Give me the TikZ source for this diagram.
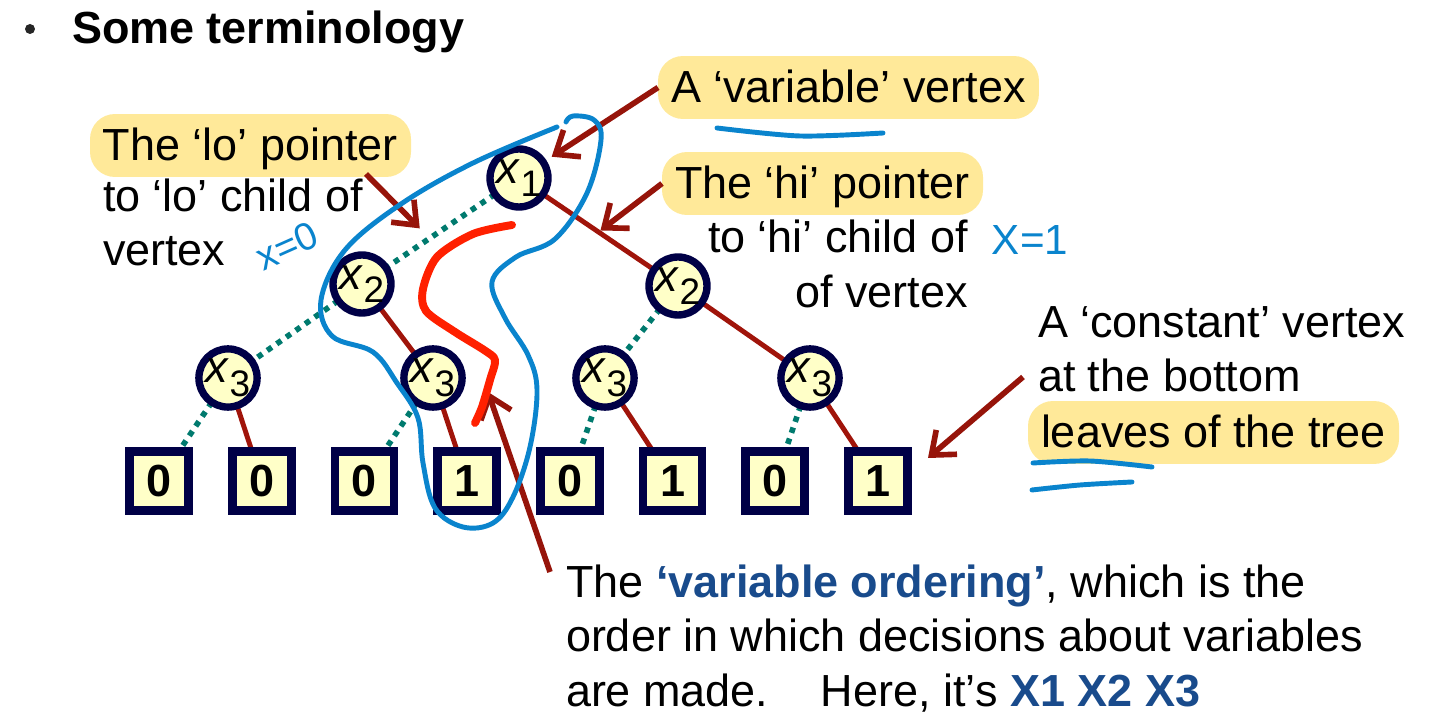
\documentclass[tikz,border=0pt]{standalone}
\usepackage{fontspec}
\setmainfont{Liberation Sans}
\usepackage{tikz}
\usetikzlibrary{arrows.meta, calc, positioning, backgrounds}

\definecolor{vfill}{RGB}{255,255,200}
\definecolor{vline}{RGB}{0,0,70}
\definecolor{hilite}{RGB}{255,233,153}
\definecolor{hiedge}{RGB}{160,20,10}
\definecolor{loedge}{RGB}{0,122,110}
\definecolor{ptrred}{RGB}{150,20,10}
\definecolor{ink}{RGB}{10,132,205}
\definecolor{redink}{RGB}{255,32,0}
\definecolor{ordblue}{RGB}{25,75,140}

\newcommand{\vx}[1]{\textit{x}\raisebox{-0.3em}{\fontsize{21}{21}\selectfont #1}}

\begin{document}
\begin{tikzpicture}[x=0.02cm, y=-0.02cm, >={Straight Barb[length=4mm,width=6.4mm]},
        every node/.style={font=\fontsize{25.6}{30.7}\selectfont, inner sep=0pt, outer sep=0pt},
        var/.style={draw=vline, fill=vfill, circle, line width=4.2pt, minimum size=1.16cm},
        leaf/.style={draw=vline, fill=vfill, line width=5pt, minimum size=1.18cm,
                font=\fontsize{25.6}{30.7}\selectfont\bfseries},
        hi/.style={draw=hiedge, line width=2.8pt},
        lo/.style={draw=loedge, line width=3.2pt, dash pattern=on 3.2pt off 3.4pt},
        ptr/.style={->, draw=ptrred, line width=3.2pt},
        hl/.style={fill=hilite, rounded corners=0.5cm, inner xsep=0.26cm, inner ysep=0pt,
                text height=0.94cm, text depth=0.32cm},
        inkline/.style={draw=ink, line width=2.8pt, line cap=round, line join=round},
        inktext/.style={text=ink, font=\fontsize{24}{24}\selectfont}]
        \useasboundingbox (0,0) rectangle (1447,715);

        % heading
        \node[circle, fill=black!85, minimum size=0.2cm] (bullet) at (30,29) {};
        \node[anchor=base west, font=\fontsize{25.6}{30.7}\selectfont\bfseries] (title) at (72,44) {Some terminology};

        % the tree
        \node[var] (v1) at (519,178) {\vx{1}};
        \node[var] (v2l) at (362,284) {\vx{2}};
        \node[var] (v2r) at (678,286) {\vx{2}};
        \foreach \n/\x in {a/228,b/433,c/605,d/810}
                \node[var] (v3\n) at (\x,378) {\vx{3}};
        \foreach \v [count=\i] in {0,0,0,1,0,1,0,1}
                \node[leaf] (l\i) at ({159+102.7*(\i-1)},481) {\v};

        \begin{scope}[on background layer]
                \draw[lo] (v1) -- coordinate[pos=0.6] (lomid) (v2l);
                \draw[hi] (v1) -- coordinate[pos=0.5] (himid) (v2r);
                \draw[lo] (v2l) -- (v3a);
                \draw[hi] (v2l) -- (v3b);
                \draw[lo] (v2r) -- (v3c);
                \draw[hi] (v2r) -- (v3d);
                \foreach \n [count=\i] in {a,b,c,d} {
                        \pgfmathtruncatemacro\j{2*\i-1}
                        \pgfmathtruncatemacro\k{2*\i}
                        \draw[lo] (v3\n) -- (l\j);
                        \draw[hi] (v3\n) -- (l\k);
                }
        \end{scope}

        % labels
        \node[hl, anchor=base west] (lo1) at (90,161) {The ‘lo’ pointer};
        \node[anchor=base west] (lo2) at (103,212) {to ‘lo’ child of};
        \node[anchor=base west] (lo3) at (103,266) {vertex};
        \node[hl, anchor=base west] (varlbl) at (658,103) {A ‘variable’ vertex};
        \node[hl, anchor=base west] (hi1) at (662,199) {The ‘hi’ pointer};
        \node[anchor=base east] (hi2) at (968,253) {to ‘hi’ child of};
        \node[anchor=base east] (hi3) at (968,308) {of vertex};
        \node[anchor=base west] (con1) at (1038,338) {A ‘constant’ vertex};
        \node[anchor=base west] (con2) at (1038,392) {at the bottom};
        \node[hl, anchor=base west] (con3) at (1028,448) {leaves of the tree};
        \node[anchor=base west] (ord1) at (566,598)
                {The \textcolor{ordblue}{\bfseries ‘variable ordering’}, which is the};
        \node[anchor=base west] (ord2) at (566,652) {order in which decisions about variables};
        \node[anchor=base west] (ord3) at (566,706)
                {are made.\hspace{1.05cm}Here, it’s \textcolor{ordblue}{\bfseries X1 X2 X3}};

        % pointers
        \coordinate (lofrom) at (366,174);
        \coordinate (confrom) at (1023,377);
        \coordinate (conto) at (928,458);
        \coordinate (ordfrom) at (550,572);
        \coordinate (ordto) at (488,392);
        \draw[ptr, shorten >=0.2cm] (varlbl.west) -- (v1);
        \draw[ptr, shorten >=0.05cm] (hi1.west) -- (himid);
        \draw[ptr, shorten >=0.28cm] (lofrom) -- (lomid);
        \draw[ptr] (confrom) -- (conto);
        \draw[ptr] (ordfrom) -- (ordto);

        % pen marks
        \draw[inkline] plot[smooth, tension=0.6] coordinates {(557,127) (473,163) (401,204) (345,250)
                (321,300) (332,336) (373,352) (397,383) (418,418) (423,463) (435,508) (463,527)
                (493,523) (513,497) (530,447) (537,390) (528,355) (505,318) (492,282) (516,257)
                (555,239) (587,193) (601,140) (594,120) (573,116) (566,122)};
        \draw[draw=redink, line width=4.5pt, line cap=round, line join=round] plot[smooth, tension=0.5]
                coordinates {(512,225) (473,234) (437,257) (423,289) (426,311) (455,332) (484,350)
                (495,360) (490,380) (482,407) (475,423)};
        \draw[inkline] plot[smooth] coordinates {(717,128) (800,136) (883,133)};
        \draw[inkline] plot[smooth] coordinates {(1033,463) (1090,461) (1152,467)};
        \draw[inkline] plot[smooth] coordinates {(1032,490) (1080,485) (1132,482)};
        \node[inktext, rotate=24, font=\fontsize{22}{22}\selectfont] (xlo) at (287,246) {x=0};
        \node[inktext] (xhi) at (1030,240) {X=1};
\end{tikzpicture}
\end{document}
